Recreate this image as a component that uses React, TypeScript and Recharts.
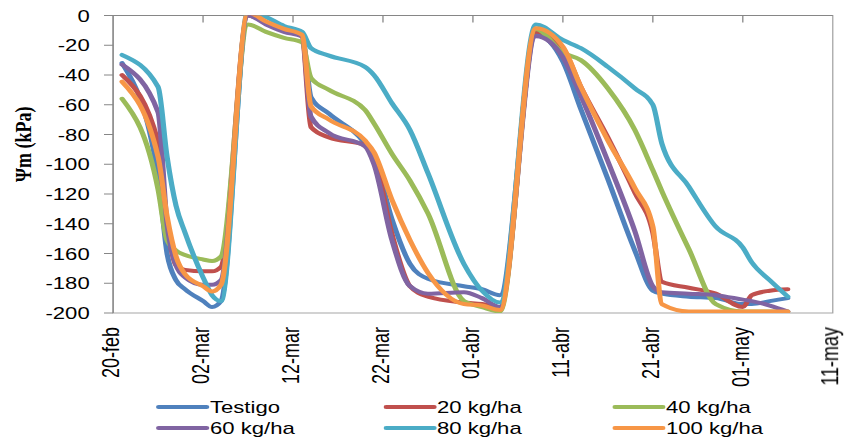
import React from 'react';
import { LineChart, Line, XAxis, YAxis, Legend, ReferenceArea, ReferenceLine } from 'recharts';

// Days counted from 20-feb
const days = [1, 5, 6, 7, 8, 10, 11, 12, 15, 17, 19, 21, 22, 24, 28, 29, 31, 33, 35, 39, 41, 43, 47, 50, 52, 55, 58, 60, 61, 64, 67, 70, 71, 73, 75];

// Matric potential (kPa) per treatment
const testigo = [-32, -108, -160, -178, -184, -192, -196, -192, 0, -5, -10, -13, -55, -66, -86, -95, -137, -167, -177, -182, -184, -188, -13, -31, -63, -110, -158, -185, -187, -189, -190, -194, -194, -192, -190];
const kg20 = [-40, -85, -140, -168, -171, -172, -172, -169, 0, -5, -10, -14, -75, -82, -87, -95, -147, -182, -189, -193, -194, -196, -11, -22, -48, -82, -119, -146, -179, -183, -187, -196, -188, -185, -184];
const kg40 = [-56, -117, -151, -158, -161, -164, -165, -162, -6, -11, -15, -18, -42, -50, -63.5, -72.5, -93, -111, -133, -192, -196, -199, -9, -25, -30, -49, -77, -104, -118, -157, -194, -199, -199, -199, -199];
const kg60 = [-33, -65, -140, -168, -176, -181, -181, -178, 0, -6, -11, -14, -68, -79, -88, -100, -151, -182, -187, -186, -190, -196, -14, -28, -54, -98, -145, -182, -186, -187, -188, -191, -192, -195, -199];
const kg80 = [-26.5, -48, -95, -128, -146, -176, -188, -192, 3, -1, -7, -11, -22, -27, -34.5, -40, -59, -77, -106, -167, -185, -193, -6, -16.5, -22, -34.5, -49, -60, -86, -115, -142, -156, -166, -178, -189];
const kg100 = [-44.5, -95, -135, -162, -174, -182, -185.5, -181, 2, -4, -9, -13, -61, -70, -84, -92, -124, -151, -173, -194, -195, -198, -8.6, -21, -48, -84, -116, -142, -194, -199, -199, -199, -199, -199, -199];

const seriesNames = ['Testigo', '20 kg/ha', '40 kg/ha', '60 kg/ha', '80 kg/ha', '100 kg/ha'];
const seriesColors = ['#4F81BD', '#C0504D', '#9BBB59', '#8064A2', '#4BACC6', '#F79646'];
const seriesValues = [testigo, kg20, kg40, kg60, kg80, kg100];

const dateTicks = [0, 10, 20, 30, 40, 50, 60, 70, 80];
const dateLabels = ['20-feb', '02-mar', '12-mar', '22-mar', '01-abr', '11-abr', '21-abr', '01-may', '11-may'];
const levelTicks = [0, -20, -40, -60, -80, -100, -120, -140, -160, -180, -200];

const data = days.map((day, i) => {
  const row: Record<string, number> = { day };
  seriesValues.forEach((vals, k) => {
    row[`s${k}`] = vals[i];
  });
  return row;
});

const SANS = 'Liberation Sans, Arial, sans-serif';
const AXIS_GRAY = '#868686';
const STRETCH = 1.3;
const W = 844 / STRETCH;
const H = 443;
const LINE_W = 4;
// length of the inward tick marks on the zero axis, in kPa
const TOP_TICK_LEN = 4.7;

const DateTick = (props: any) => {
  const { x, y, payload } = props;
  const idx = dateTicks.indexOf(payload.value);
  const label = idx >= 0 ? dateLabels[idx] : '';
  return (
    <text
      x={x}
      y={y}
      transform={`rotate(-90, ${x}, ${y})`}
      textAnchor="end"
      dy="0.25em"
      fontFamily={SANS}
      fontSize={18}
      fill="#000"
    >
      {label}
    </text>
  );
};

const LevelTick = (props: any) => {
  const { x, y, payload } = props;
  return (
    <text x={x} y={y} dy="0.36em" textAnchor="end" fontFamily={SANS} fontSize={17} fill="#000">
      {payload.value}
    </text>
  );
};

const renderLegend = () => (
  <div
    style={{
      display: 'grid',
      gridTemplateColumns: '174.6px 176.2px 160px',
      paddingLeft: 120,
      paddingTop: 8.5,
    }}
  >
    {seriesNames.map((name, k) => (
      <div key={name} style={{ display: 'flex', alignItems: 'center', height: 21 }}>
        <svg width={41.5} height={8} style={{ display: 'block' }}>
          <line x1={2} x2={39} y1={4} y2={4} stroke={seriesColors[k]} strokeWidth={LINE_W} strokeLinecap="round" />
        </svg>
        <span style={{ fontFamily: SANS, fontSize: 17, color: '#000', lineHeight: '21px' }}>{name}</span>
      </div>
    ))}
  </div>
);

export default function App() {
  return (
    <div
      style={{
        position: 'absolute',
        left: 0,
        top: 0,
        width: W,
        height: H,
        overflow: 'hidden',
        transform: `scaleX(${STRETCH})`,
        transformOrigin: '0 0',
        background: '#fff',
      }}
    >
      <style>{`.recharts-surface { overflow: visible; }`}</style>
      <LineChart width={W} height={H} data={data} margin={{ top: 15.5, right: W - 640.6, left: 0, bottom: 3 }}>
        <XAxis
          dataKey="day"
          type="number"
          domain={[0, 80]}
          ticks={dateTicks}
          interval={0}
          height={75}
          axisLine={false}
          tickLine={false}
          tickSize={0}
          tickMargin={14}
          tick={<DateTick />}
        />
        <YAxis
          type="number"
          domain={[-200, 0]}
          ticks={levelTicks}
          interval={0}
          allowDataOverflow
          width={87}
          tickSize={7}
          tickMargin={11}
          axisLine={{ stroke: AXIS_GRAY }}
          tickLine={{ stroke: AXIS_GRAY }}
          tick={<LevelTick />}
          label={{
            value: 'Ψm (kPa)',
            angle: -90,
            position: 'center',
            dx: -26,
            dy: -20,
            style: { fontFamily: 'Liberation Serif, Times New Roman, serif', fontWeight: 700, fontSize: 18, fill: '#000' },
          }}
        />
        <ReferenceArea x1={0} x2={80} y1={-200} y2={0} fill="none" stroke="#A6A6A6" strokeWidth={1} ifOverflow="visible" />
        <ReferenceLine y={0} stroke={AXIS_GRAY} strokeWidth={1} ifOverflow="visible" />
        {dateTicks.slice(1, -1).map((t) => (
          <ReferenceLine
            key={`tick-${t}`}
            segment={[
              { x: t, y: 0 },
              { x: t, y: -TOP_TICK_LEN },
            ]}
            stroke={AXIS_GRAY}
            strokeWidth={1}
            ifOverflow="visible"
          />
        ))}
        {seriesNames.map((name, k) => (
          <Line
            key={name}
            type="monotone"
            dataKey={`s${k}`}
            name={name}
            stroke={seriesColors[k]}
            strokeWidth={LINE_W}
            strokeLinejoin="round"
            strokeLinecap="round"
            dot={false}
            activeDot={false}
            isAnimationActive={false}
          />
        ))}
        <Legend verticalAlign="bottom" height={52} content={renderLegend} />
      </LineChart>
    </div>
  );
}
